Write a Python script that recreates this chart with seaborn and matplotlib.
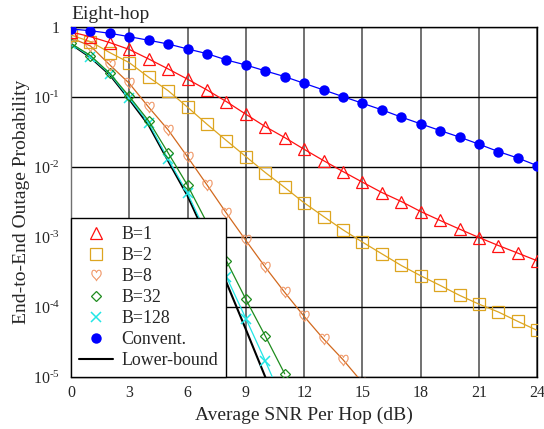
import numpy as np
import pandas as pd
import matplotlib
matplotlib.use("Agg")
import matplotlib.pyplot as plt
from matplotlib.lines import Line2D
import seaborn as sns

# ---------------- data ----------------
snr = list(range(0, 25))

convent = [0.946, 0.893, 0.82, 0.734, 0.652, 0.577, 0.49, 0.42, 0.341, 0.289,
           0.238, 0.197, 0.158, 0.127, 0.102, 0.082, 0.066, 0.052, 0.0416,
           0.0334, 0.0269, 0.0213, 0.0167, 0.0135, 0.0105]

b1 = [0.857, 0.734, 0.603, 0.482, 0.352, 0.254, 0.181, 0.127, 0.0865, 0.0571,
      0.038, 0.0265, 0.0180, 0.0124, 0.00865, 0.0061, 0.00434, 0.00323,
      0.00232, 0.00173, 0.0013, 0.000987, 0.000758, 0.00059, 0.000458]

b2 = [0.776, 0.623, 0.434, 0.312, 0.193, 0.124, 0.072, 0.0411, 0.024, 0.01417,
      0.00838, 0.00513, 0.00309, 0.00197, 0.00127, 0.000849, 0.000577,
      0.000393, 0.00028, 0.000204, 0.000147, 0.00011, 8.49e-5, 6.23e-5, 4.63e-5]

snr_b8 = list(range(0, 16))
b8 = [0.703, 0.541, 0.289, 0.158, 0.072, 0.0341, 0.014, 0.00558, 0.0022,
      0.000897, 0.000372, 0.000162, 7.35e-5, 3.49e-5, 1.77e-5, 8.3e-6]

snr_b32 = list(range(0, 12))
b32 = [0.587, 0.395, 0.219, 0.1026, 0.0458, 0.016, 0.0055, 0.0016, 0.000458,
       0.000129, 3.85e-5, 1.11e-5]

snr_b128 = list(range(0, 12))
b128 = [0.585, 0.38, 0.215, 0.0968, 0.0425, 0.013, 0.00423, 0.00108, 0.000271,
        6.85e-5, 1.7e-5, 3.9e-6]

snr_lb = list(range(0, 12))
lower_bound = [0.575, 0.372, 0.209, 0.0933, 0.0398, 0.0123, 0.00389, 0.000955,
               0.000224, 4.79e-5, 1.0e-5, 2.0e-6]

xticks = [0, 3, 6, 9, 12, 15, 18, 21, 24]
yticks = [1, 1e-1, 1e-2, 1e-3, 1e-4, 1e-5]
ytick_labels = ["1", r"$10^{\text{-}1}$", r"$10^{\text{-}2}$", r"$10^{\text{-}3}$",
                r"$10^{\text{-}4}$", r"$10^{\text{-}5}$"]

# ---------------- style ----------------
sns.set_style("white")
plt.rcParams["font.family"] = ["Liberation Serif", "DejaVu Serif"]
plt.rcParams["mathtext.fontset"] = "custom"
plt.rcParams["mathtext.rm"] = "Liberation Serif"
plt.rcParams["mathtext.it"] = "Liberation Serif:italic"
plt.rcParams["mathtext.bf"] = "Liberation Serif:bold"

fig = plt.figure(figsize=(5.44, 4.29), dpi=100)
ax = fig.add_axes([0.1305, 0.1212, 0.8572, 0.8152])

c_conv = "#0000FF"
c_b1 = "#FF1010"
c_b2 = "#DDA520"
c_b8_line = "#D2691E"
c_b8_mk = "#F09868"
c_b32 = "#1E8C1E"
c_b128 = "#22E6E6"
c_lb = "#000000"

lw = 0.9
mew = 0.9

sns.lineplot(x=snr_lb, y=lower_bound, ax=ax, color=c_lb, lw=1.5, zorder=3)
sns.lineplot(x=snr_b128, y=b128, ax=ax, color=c_b128, lw=lw, marker="x",
             markersize=7.5, mec=c_b128, mew=1.1, zorder=4)
sns.lineplot(x=snr_b32, y=b32, ax=ax, color=c_b32, lw=lw, marker="D",
             markersize=5.2, mfc="none", mec=c_b32, mew=mew, zorder=4)
sns.lineplot(x=snr_b8, y=b8, ax=ax, color=c_b8_line, lw=lw, zorder=4)
sns.lineplot(x=snr_b8, y=b8, ax=ax, color=c_b8_mk, lw=0, marker=r"$\heartsuit$",
             markersize=8, mec=c_b8_mk, mfc=c_b8_mk, mew=0.3, zorder=4)
sns.lineplot(x=snr, y=b2, ax=ax, color=c_b2, lw=lw, marker="s",
             markersize=8, mfc="none", mec=c_b2, mew=mew, zorder=4)
sns.lineplot(x=snr, y=b1, ax=ax, color=c_b1, lw=lw, marker="^",
             markersize=8.5, mfc="none", mec=c_b1, mew=mew, zorder=4)
sns.lineplot(x=snr, y=convent, ax=ax, color=c_conv, lw=lw, marker="o",
             markersize=7.5, mfc=c_conv, mec=c_conv, mew=0, zorder=5)

ax.set_yscale("log")
ax.set_xlim(0, 24)
ax.set_ylim(1e-5, 1)
ax.set_xticks(xticks)
ax.set_xticklabels([str(t) for t in xticks])
ax.set_yticks(yticks)
ax.set_yticklabels(ytick_labels)
ax.minorticks_off()
ax.tick_params(axis="both", length=0, labelsize=11.5)
ax.tick_params(axis="y", pad=8)
ax.tick_params(axis="x", pad=6)

for t in xticks:
    ax.axvline(t, color="#4a4a4a", lw=1.1, zorder=1)
for t in yticks:
    ax.axhline(t, color="black", lw=1.0, zorder=1)

for s in ax.spines.values():
    s.set_color("black")
    s.set_linewidth(1.0)
ax.spines["left"].set_color("#707070")

ax.set_xlabel("Average SNR Per Hop (dB)", fontsize=14, labelpad=4)
ax.set_ylabel("End-to-End Outage Probability", fontsize=14, labelpad=4)
ax.yaxis.set_label_coords(-0.088, 0.5)
ax.text(0.0, 1.012, "Eight-hop", transform=ax.transAxes, fontsize=14,
        ha="left", va="bottom")

handles = [
    Line2D([], [], lw=0, marker="^", markersize=8.5, mfc="none", mec=c_b1, mew=mew),
    Line2D([], [], lw=0, marker="s", markersize=8, mfc="none", mec=c_b2, mew=mew),
    Line2D([], [], lw=0, marker=r"$\heartsuit$", markersize=8, mfc=c_b8_mk, mec=c_b8_mk, mew=0.3),
    Line2D([], [], lw=0, marker="D", markersize=5.2, mfc="none", mec=c_b32, mew=mew),
    Line2D([], [], lw=0, marker="x", markersize=7.5, mec=c_b128, mew=1.1),
    Line2D([], [], lw=0, marker="o", markersize=7.5, mfc=c_conv, mec=c_conv, mew=0),
    Line2D([], [], lw=1.5, color=c_lb),
]
labels = ["B=1", "B=2", "B=8", "B=32", "B=128", "Convent.", "Lower-bound"]
leg = ax.legend(handles, labels, loc="lower left", borderaxespad=0,
                fontsize=12.9, frameon=True, fancybox=False, framealpha=1,
                edgecolor="black", handlelength=1.9, handletextpad=0.45,
                labelspacing=0.22, borderpad=0.45)
leg.get_frame().set_linewidth(1.0)
leg.set_zorder(10)

fig.savefig("out.png", dpi=100)
